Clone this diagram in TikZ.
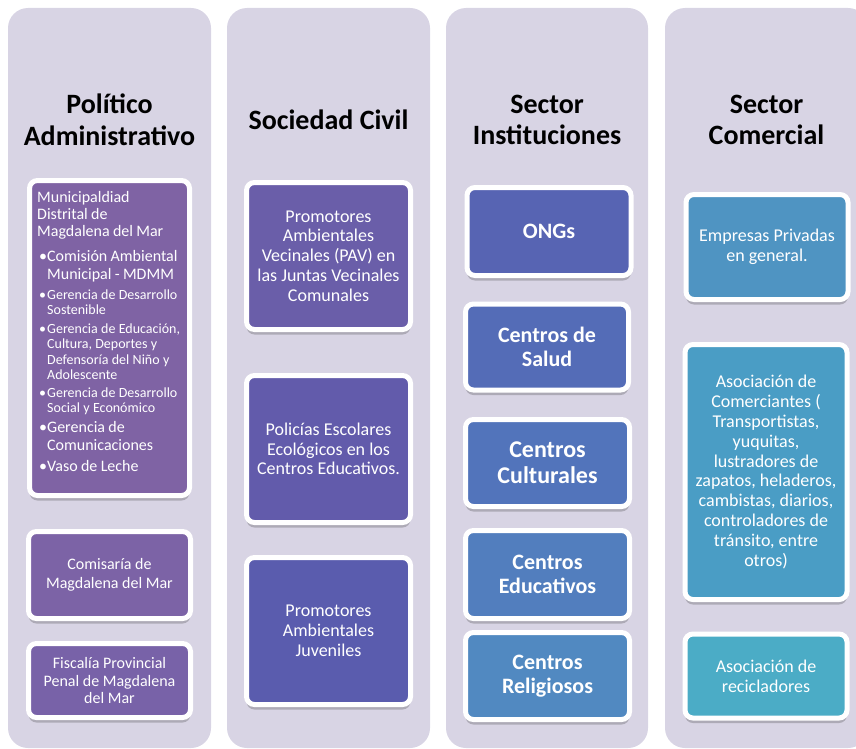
\documentclass[tikz,border=0pt]{standalone}
\usepackage{fontspec}
\setmainfont{Carlito}
\usetikzlibrary{shadows}

\definecolor{panelgray}{RGB}{216,212,228}
\definecolor{purpleA}{RGB}{127,99,164}
\definecolor{purpleB}{RGB}{124,99,166}
\definecolor{purpleC}{RGB}{120,98,168}
\definecolor{violetA}{RGB}{106,94,169}
\definecolor{violetB}{RGB}{98,91,171}
\definecolor{violetC}{RGB}{90,92,174}
\definecolor{blueA}{RGB}{87,100,179}
\definecolor{blueB}{RGB}{84,108,183}
\definecolor{blueC}{RGB}{82,116,187}
\definecolor{blueD}{RGB}{82,126,190}
\definecolor{blueE}{RGB}{81,137,193}
\definecolor{tealA}{RGB}{79,148,194}
\definecolor{tealB}{RGB}{74,157,197}
\definecolor{tealC}{RGB}{75,172,198}

% bullet item: size, skip, space before, text (\contline breaks to an indented line)
\newcommand{\contline}{\par\noindent\hspace*{10pt}}
\newcommand{\bulletline}[4]{\vspace{#3}{\fontsize{#1}{#2}\selectfont\noindent\hspace*{2pt}\makebox[8pt][l]{•}#4\par}}

\begin{document}
\begin{tikzpicture}[x=1pt,y=-1pt,
  panel/.style={fill=panelgray,rounded corners=20pt},
  head/.style={font=\fontsize{28}{31.5}\selectfont\bfseries,align=center},
  card/.style={draw=white,line width=5pt,rounded corners=8pt,text=white,align=center,
    inner sep=0pt,minimum width=162pt,
    drop shadow={shadow xshift=0pt,shadow yshift=-5pt,opacity=0.3,fill=black!70}},
  plaincard/.style={card,font=\fontsize{18}{19.8}\selectfont},
  smallcard/.style={card,font=\fontsize{16}{17.5}\selectfont},
  boldcard/.style={card,font=\fontsize{22}{24}\selectfont\bfseries}]

% Canvas
\useasboundingbox (0,0) rectangle (856,749);
\clip (0,0) rectangle (856,749);

% Column panels
\fill[panel] (8,8) rectangle (211,748);
\fill[panel] (227,8) rectangle (430,748);
\fill[panel] (446,8) rectangle (648,748);
\fill[panel] (665,8) rectangle (868,748);

% Headers
\node[head] (hpol) at (109.5,120) {Político\\Administrativo};
\node[head] (hciv) at (328.5,120) {Sociedad Civil};
\node[head] (hins) at (547,120) {Sector\\Instituciones};
\node[head] (hcom) at (766.5,120) {Sector\\Comercial};

% Politico Administrativo
\node[card,fill=purpleA,minimum width=160pt,minimum height=315pt] (muni) at (109.5,338) {};
\node[anchor=north west,text width=150pt,align=left,inner sep=0pt,text=white] (munitext) at (37,191) {%
  {\fontsize{16}{17}\selectfont Municipaldiad\\Distrital de\\Magdalena del Mar\par}
  \bulletline{16}{18}{7pt}{Comisión Ambiental\contline Municipal - MDMM}
  \bulletline{14}{15}{5pt}{Gerencia de Desarrollo\contline Sostenible}
  \bulletline{14}{15.3}{4pt}{Gerencia de Educación,\contline Cultura, Deportes y\contline Defensoría del Niño y\contline Adolescente}
  \bulletline{14}{15}{3pt}{Gerencia de Desarrollo\contline Social y Económico}
  \bulletline{16}{18}{2pt}{Gerencia de\contline Comunicaciones}
  \bulletline{16}{18}{3pt}{Vaso de Leche}};
\node[smallcard,fill=purpleB,minimum height=87pt,font=\fontsize{16}{19}\selectfont] (comisaria) at (109.5,575) {Comisaría de\\Magdalena del Mar};
\node[smallcard,fill=purpleC,minimum height=74pt] (fiscalia) at (109.5,680.5) {Fiscalía Provincial\\Penal de Magdalena\\del Mar};

% Sociedad Civil
\node[plaincard,fill=violetA,minimum width=164pt,minimum height=147pt] (pav) at (328.5,256) {Promotores\\Ambientales\\Vecinales (PAV) en\\las Juntas Vecinales\\Comunales};
\node[plaincard,fill=violetB,minimum width=164pt,minimum height=147pt] (policias) at (328.5,449) {Policías Escolares\\Ecológicos en los\\Centros Educativos.};
\node[plaincard,fill=violetC,minimum width=164pt,minimum height=147pt] (juveniles) at (328.5,631) {Promotores\\Ambientales\\Juveniles};

% Sector Instituciones
\node[boldcard,fill=blueA,minimum width=164pt,minimum height=88pt] (ongs) at (549,231.5) {ONGs};
\node[boldcard,fill=blueB,minimum width=163pt,minimum height=86pt] (salud) at (547,347) {Centros de\\Salud};
\node[boldcard,fill=blueC,minimum width=164pt,minimum height=87pt,font=\fontsize{24}{26}\selectfont\bfseries] (culturales) at (547.5,463) {Centros\\Culturales};
\node[boldcard,fill=blueD,minimum width=164pt,minimum height=88pt] (educativos) at (547.5,574.5) {Centros\\Educativos};
\node[boldcard,fill=blueE,minimum width=164pt,minimum height=87pt] (religiosos) at (547.5,676) {Centros\\Religiosos};

% Sector Comercial
\node[plaincard,fill=tealA,minimum height=105pt] (empresas) at (767,247) {Empresas Privadas\\en general.};
\node[plaincard,fill=tealB,minimum height=255pt] (comerciantes) at (766,472) {Asociación de\\Comerciantes (\\Transportistas,\\yuquitas,\\lustradores de\\zapatos, heladeros,\\cambistas, diarios,\\controladores de\\tránsito, entre\\otros)};
\node[plaincard,fill=tealC,minimum height=84pt] (recicladores) at (766,676) {Asociación de\\recicladores};
\end{tikzpicture}
\end{document}
